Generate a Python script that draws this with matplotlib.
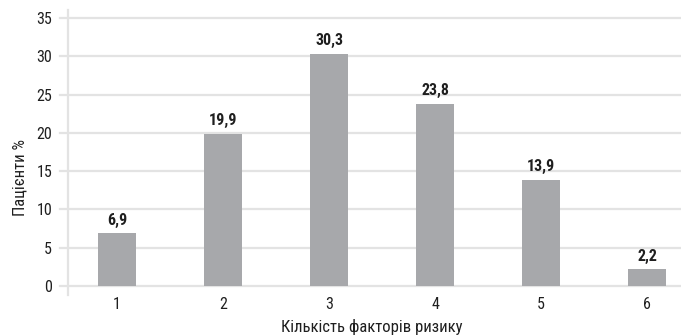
import matplotlib
matplotlib.use("Agg")
import matplotlib.pyplot as plt
from matplotlib import font_manager

categories = ["1", "2", "3", "4", "5", "6"]
patients_pct = [6.9, 19.9, 30.3, 23.8, 13.9, 2.2]
value_labels = ["6,9", "19,9", "30,3", "23,8", "13,9", "2,2"]
y_ticks = [0, 5, 10, 15, 20, 25, 30, 35]

names = {f.name for f in font_manager.fontManager.ttflist}
family = [n for n in ["Liberation Sans Narrow", "Roboto Condensed", "Roboto", "DejaVu Sans"] if n in names]
plt.rcParams["font.family"] = family

text_color = "#1f1f1f"
bar_color = "#a7a8ab"
grid_color = "#e3e3e3"

W, H = 681, 335
fig = plt.figure(figsize=(W / 100, H / 100), dpi=100)
ax = fig.add_axes([68 / W, (H - 295) / H, (W - 68) / W, (295 - 10) / H])

x = list(range(1, len(categories) + 1))
ax.bar(x, patients_pct, width=0.36, color=bar_color, zorder=3)

for xi, v, lab in zip(x, patients_pct, value_labels):
    ax.annotate(lab, (xi, v), xytext=(0, 4), textcoords="offset points",
                ha="center", va="bottom", fontsize=11.5, fontweight="bold",
                color=text_color, zorder=4)

ax.set_xlim(0.538, 6.32)
ax.set_ylim(-1.17, 36.05)
ax.set_yticks(y_ticks)
ax.set_xticks(x)
ax.set_xticklabels(categories)

for t in y_ticks:
    ax.axhline(t, color=grid_color, lw=1.6, zorder=1, clip_on=False,
               xmin=-8 / (W - 68), xmax=1)

for s in ["top", "right", "bottom"]:
    ax.spines[s].set_visible(False)
ax.spines["left"].set_color(grid_color)
ax.spines["left"].set_linewidth(1.6)

ax.tick_params(axis="both", length=0, labelsize=11.5, colors=text_color)
ax.tick_params(axis="y", pad=11.5)
ax.tick_params(axis="x", pad=1.5)

fig.text(20 / W, 1 - 177 / H, "Пацієнти %", rotation=90, ha="center", va="center",
         fontsize=12, color=text_color)
fig.text(372 / W, 1 - 327 / H, "Кількість факторів ризику", ha="center", va="center",
         fontsize=12, color=text_color)

fig.savefig("out.png", dpi=100)
